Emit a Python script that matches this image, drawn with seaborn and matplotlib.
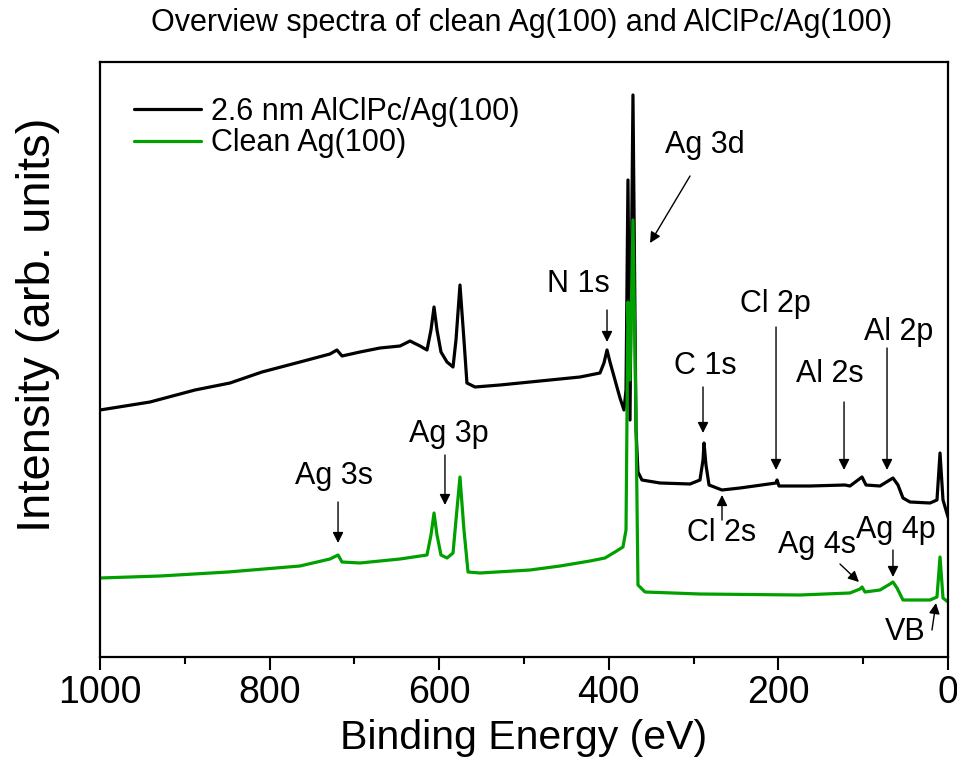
import numpy as np
import pandas as pd
import matplotlib
matplotlib.use("Agg")
import matplotlib.pyplot as plt
from matplotlib.ticker import MultipleLocator
import seaborn as sns

# ---------------- data (binding energy in eV, intensity in arb. units) -------------
label_film = "2.6 nm AlClPc/Ag(100)"
label_clean = "Clean Ag(100)"

film_be = [1000.0, 941.0, 888.0, 846.7, 809.0, 764.2, 728.8, 720.6, 714.6, 693.4,
           669.8, 646.2, 634.4, 622.6, 614.4, 609.7, 606.1, 602.6, 597.9, 590.8,
           583.7, 580.2, 575.5, 570.8, 567.3, 557.8, 528.3, 469.3, 434.0, 410.4,
           405.7, 402.1, 398.6, 392.7, 386.8, 382.1, 379.7, 377.4, 375.0, 371.5,
           367.9, 365.6, 360.9, 339.6, 304.2, 292.5, 288.9, 287.7, 285.4, 281.8,
           266.5, 245.3, 202.8, 201.6, 199.3, 162.7, 121.5, 115.6, 101.4, 96.7,
           80.2, 64.9, 59.0, 53.1, 44.8, 21.2, 13.0, 9.4, 5.9, 0.0]
film_int = [247, 255, 267, 274, 285, 295, 303, 307, 301, 305,
            309, 311, 316, 311, 307, 327, 350, 327, 305, 295,
            290, 317, 372, 317, 274, 270, 272, 277, 280, 284,
            294, 307, 295, 277, 259, 247, 267, 477, 237, 562,
            227, 185, 177, 174, 173, 177, 197, 214, 192, 172,
            167, 169, 174, 177, 171, 171, 172, 171, 180, 172,
            171, 179, 172, 159, 155, 154, 157, 204, 157, 140]

clean_be = [1000.0, 929.2, 849.1, 764.2, 728.8, 719.3, 714.6, 693.4, 646.2, 614.4,
            609.7, 606.1, 602.6, 597.9, 590.8, 583.7, 580.2, 575.5, 570.8, 566.0,
            551.9, 492.9, 457.5, 422.2, 404.5, 392.7, 383.3, 379.7, 377.4, 375.0,
            371.5, 367.9, 365.6, 357.3, 292.5, 174.5, 115.6, 103.8, 101.4, 97.9,
            80.2, 68.4, 64.9, 60.1, 53.1, 21.2, 13.0, 9.4, 5.9, 0.0]
clean_int = [79, 81, 85, 91, 98, 102, 95, 94, 98, 102,
             122, 144, 122, 102, 99, 104, 137, 180, 127, 85,
             84, 87, 91, 96, 99, 105, 110, 127, 355, 277,
             437, 237, 72, 65, 63, 62, 64, 68, 70, 65,
             67, 73, 75, 69, 57, 57, 60, 100, 59, 55]

# ---------------- annotations: text, text position, arrow tail, arrow head -------------
annotations = [
    ("Ag 3d", (286.6, 512), (304.2, 481), (351.4, 414)),
    ("N 1s",  (436.3, 373), (402.1, 347), (402.1, 315)),
    ("C 1s",  (286.6, 291), (288.9, 270), (288.9, 224)),
    ("Cl 2p", (204.0, 353), (202.8, 330), (202.8, 187)),
    ("Al 2s", (139.2, 283), (122.6, 255), (122.6, 187)),
    ("Al 2p", (57.8, 325),  (71.9, 309),  (71.9, 187)),
    ("Cl 2s", (266.5, 124), (266.5, 137), (266.5, 162)),
    ("Ag 4s", (154.5, 112), (127.4, 93),  (105.0, 75)),
    ("Ag 4p", (61.3, 127),  (64.9, 107),  (64.9, 80)),
    ("VB",    (50.7, 25),   (18.9, 27),   (14.2, 54)),
    ("Ag 3s", (724.1, 181), (719.3, 155), (719.3, 114)),
    ("Ag 3p", (588.4, 223), (593.2, 202), (593.2, 152)),
]

df = pd.concat([
    pd.DataFrame({"be": film_be, "intensity": film_int, "sample": label_film}),
    pd.DataFrame({"be": clean_be, "intensity": clean_int, "sample": label_clean}),
], ignore_index=True)

sns.set_theme(style="white")
plt.rcParams["font.family"] = ["Liberation Sans", "DejaVu Sans"]
plt.rcParams["text.color"] = "black"
plt.rcParams["axes.labelcolor"] = "black"
plt.rcParams["xtick.color"] = "black"
plt.rcParams["ytick.color"] = "black"

fig = plt.figure(figsize=(9.57, 7.64), dpi=100)
ax = fig.add_axes([100 / 957, 1 - 657 / 764, 848 / 957, 595 / 764])

sns.lineplot(data=df, x="be", y="intensity", hue="sample",
             hue_order=[label_film, label_clean],
             palette=["#000000", "#00A000"], estimator=None, sort=True,
             linewidth=2.3, ax=ax)

ax.set_xlim(1000, 0)
ax.set_ylim(0, 595)
ax.set_yticks([])
ax.xaxis.set_major_locator(MultipleLocator(200))
ax.xaxis.set_minor_locator(MultipleLocator(100))
ax.tick_params(axis="x", which="major", direction="out", length=9, width=1.5,
               labelsize=27, pad=4, bottom=True, top=False, colors="black")
ax.tick_params(axis="x", which="minor", direction="out", length=5, width=1.5,
               bottom=True, top=False, colors="black")
for sp in ax.spines.values():
    sp.set_linewidth(1.6)
    sp.set_color("black")

ax.set_xlabel("Binding Energy (eV)", fontsize=29.5, labelpad=6, color="black")
ax.set_ylabel("Intensity (arb. units)", fontsize=34, color="black")
ax.yaxis.set_label_coords(-0.047, 0.558)
fig.text(522 / 957, 1 - 23 / 764, "Overview spectra of clean Ag(100) and AlClPc/Ag(100)",
         ha="center", va="center", fontsize=22, color="black")

leg = ax.legend(loc="upper left", bbox_to_anchor=(0.026, 0.962), frameon=False,
                fontsize=22, handlelength=2.2, handletextpad=0.3, labelspacing=0.05,
                borderaxespad=0)
for line in leg.get_lines():
    line.set_linewidth(2.3)
for t in leg.get_texts():
    t.set_color("black")

for text, xy_text, tail, head in annotations:
    ax.text(xy_text[0], xy_text[1], text, ha="center", va="center", fontsize=22,
            color="black")
    ax.annotate("", xy=head, xytext=tail,
                arrowprops=dict(arrowstyle="-|>", color="black", lw=1.0,
                                mutation_scale=16, shrinkA=0, shrinkB=0))

fig.savefig("out.png", dpi=100)
